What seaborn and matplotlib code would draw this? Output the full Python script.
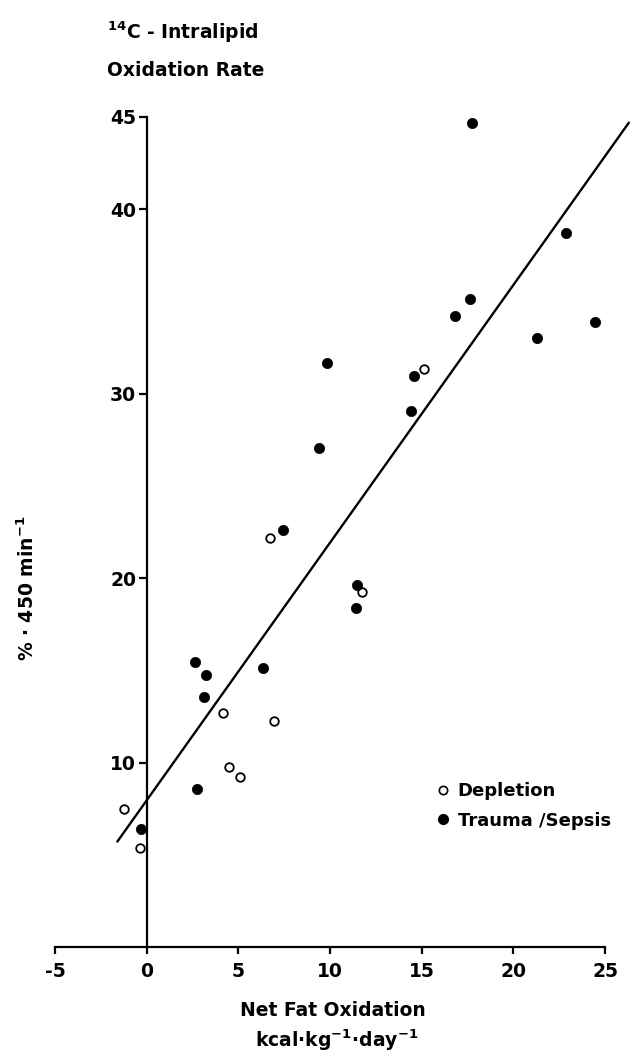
import matplotlib
matplotlib.use("Agg")
import matplotlib.pyplot as plt
from matplotlib.lines import Line2D
import seaborn as sns
import pandas as pd

# ---- data ----
depletion_x = [-1.24, -0.38, 4.48, 5.08, 4.15, 6.94, 6.74, 11.77, 15.10]
depletion_y = [7.48, 5.35, 9.77, 9.23, 12.70, 12.27, 22.15, 19.26, 31.35]

trauma_x = [-0.29, 2.77, 2.62, 3.24, 3.11, 6.36, 7.45, 9.42, 9.84, 11.48,
            11.40, 14.41, 14.57, 16.81, 17.63, 17.76, 21.27, 22.90, 24.44]
trauma_y = [6.38, 8.56, 15.46, 14.76, 13.57, 15.15, 22.60, 27.08, 31.65, 19.62,
            18.40, 29.07, 30.95, 34.23, 35.14, 44.66, 33.04, 38.70, 33.90]

fit_x = [-1.6, 26.3]
fit_slope = 1.397
fit_intercept = 7.95

x_ticks = [-5, 0, 5, 10, 15, 20, 25]
y_ticks = [10, 20, 30, 40, 45]

sns.set_theme(style="white")
plt.rcParams['font.family'] = ['DejaVu Sans']
plt.rcParams['font.weight'] = 'bold'
plt.rcParams['text.color'] = 'black'
plt.rcParams['mathtext.fontset'] = 'dejavusans'
plt.rcParams['mathtext.default'] = 'bf'

FS = 13.5

W, H = 636, 1061
fig = plt.figure(figsize=(W / 100, H / 100), dpi=100)
fig.patch.set_facecolor('white')

left_px, right_px = 55, 605
bottom_px, top_px = 947, 117
ax = fig.add_axes([left_px / W, 1 - bottom_px / H,
                   (right_px - left_px) / W, (bottom_px - top_px) / H])
ax.set_facecolor('white')

dep = pd.DataFrame({'x': depletion_x, 'y': depletion_y})
tra = pd.DataFrame({'x': trauma_x, 'y': trauma_y})

sns.scatterplot(data=dep, x='x', y='y', ax=ax, s=38, marker='o',
                facecolor='white', edgecolor='black', linewidth=1.3, zorder=3)
sns.scatterplot(data=tra, x='x', y='y', ax=ax, s=55, marker='o',
                color='black', edgecolor='black', linewidth=0.5, zorder=3)

fit_df = pd.DataFrame({'x': fit_x,
                       'y': [fit_intercept + fit_slope * v for v in fit_x]})
sns.lineplot(data=fit_df, x='x', y='y', ax=ax, color='black', lw=1.7,
             zorder=2, clip_on=False)

ax.set_xlim(-5, 25)
ax.set_ylim(0, 45)
ax.set_xticks(x_ticks)
ax.set_xticklabels([str(t) for t in x_ticks])
ax.set_yticks(y_ticks)
ax.set_yticklabels([str(t) for t in y_ticks])

for s in ['top', 'right']:
    ax.spines[s].set_visible(False)
ax.spines['left'].set_position(('data', 0))
ax.spines['left'].set_bounds(0, 45)
ax.spines['bottom'].set_bounds(-5, 25)
for s in ['left', 'bottom']:
    ax.spines[s].set_color('black')
    ax.spines[s].set_linewidth(1.6)

ax.tick_params(axis='x', direction='out', length=5, width=1.6, pad=6,
               labelsize=FS, colors='black', bottom=True)
ax.tick_params(axis='y', direction='out', length=6, width=1.6, pad=1.5,
               labelsize=FS, colors='black', left=True)
for lab in ax.get_xticklabels() + ax.get_yticklabels():
    lab.set_fontweight('bold')

ax.set_xlabel('')
ax.set_ylabel('')

# axis titles
fig.text(333 / W, 1 - 1011 / H, 'Net Fat Oxidation', ha='center', va='center',
         fontsize=FS, color='black', fontweight='bold')
fig.text(337 / W, 1 - 1040 / H, r'kcal·kg$^{-1}$·day$^{-1}$',
         ha='center', va='center', fontsize=FS, color='black', fontweight='bold')
fig.text(27 / W, 1 - 588 / H, r'% · 450 min$^{-1}$', ha='center',
         va='center', rotation=90, fontsize=FS, color='black', fontweight='bold')

fig.text(107 / W, 1 - 32 / H, r'$^{14}$C - Intralipid', ha='left',
         va='center', fontsize=FS, color='black', fontweight='bold')
fig.text(107 / W, 1 - 70 / H, 'Oxidation Rate', ha='left', va='center',
         fontsize=FS, color='black', fontweight='bold')

handles = [
    Line2D([], [], marker='o', ls='', mfc='white', mec='black', ms=6, mew=1.2),
    Line2D([], [], marker='o', ls='', mfc='black', mec='black', ms=7),
]
leg = fig.legend(handles, ['Depletion', 'Trauma /Sepsis'], loc='upper left',
                 bbox_to_anchor=(436 / W, 1 - 782 / H), frameon=False,
                 fontsize=13, handlelength=0.8, handletextpad=0.4,
                 labelspacing=0.65, borderpad=0, borderaxespad=0)
for t in leg.get_texts():
    t.set_fontweight('bold')
    t.set_color('black')

fig.savefig('out.png', dpi=100, facecolor='white')
